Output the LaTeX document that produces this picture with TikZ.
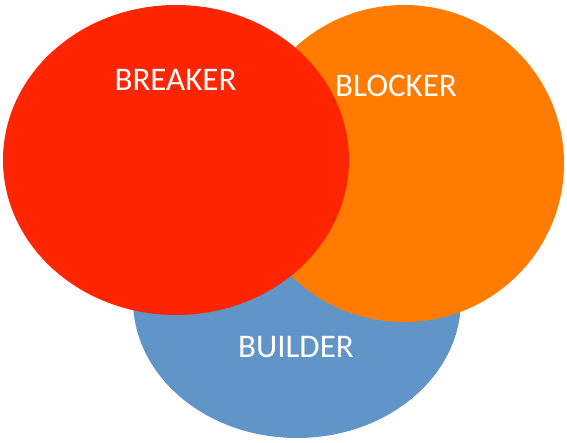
\documentclass[tikz,border=0pt]{standalone}
\usepackage{fontspec}
\setmainfont{Carlito}
\usetikzlibrary{shapes.geometric}
\definecolor{builderblue}{RGB}{98,149,199}
\definecolor{blockerorange}{RGB}{255,124,0}
\definecolor{breakerred}{RGB}{254,37,0}

\begin{document}
\begin{tikzpicture}[x=1pt, y=-1pt,
    setshape/.style={ellipse, inner sep=0pt, outer sep=0pt, draw=none},
    setlabel/.style={text=white, inner sep=0pt, anchor=base, font=\fontsize{33}{40}\selectfont}]
    \useasboundingbox (0,0) rectangle (567,443);

    \node[setshape, fill=builderblue, minimum width=328pt, minimum height=276pt] (builder) at (297,300) {};
    \node[setshape, fill=blockerorange, minimum width=320pt, minimum height=317pt] (blocker) at (404,163.5) {};
    \node[setshape, fill=breakerred, minimum width=346pt, minimum height=310pt] (breaker) at (176,160) {};

    \node[setlabel] (breakertext) at (175.5,91) {BREAKER};
    \node[setlabel] (blockertext) at (396,97) {BLOCKER};
    \node[setlabel] (buildertext) at (296,357) {BUILDER};
\end{tikzpicture}
\end{document}
